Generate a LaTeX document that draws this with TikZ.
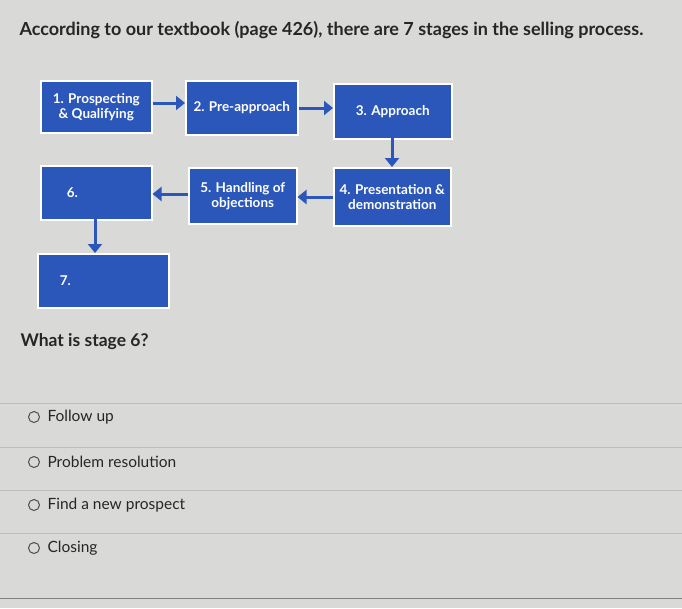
\documentclass[tikz,border=0pt]{standalone}
\usepackage{fontspec}
\setmainfont{Lato}
\usetikzlibrary{arrows.meta}
\definecolor{bg}{HTML}{D9D9D7}
\definecolor{bx}{HTML}{2B57BA}
\definecolor{ln}{HTML}{BDBDBB}
\tikzset{
  stage/.style={draw=white, line width=1.5pt, fill=bx, text=white, font=\fontsize{13.5}{15}\selectfont\bfseries, align=center, anchor=north west, inner sep=2pt},
  flow/.style={draw=bx, line width=3pt, -{Triangle[length=9pt,width=14pt]}},
  opt/.style={anchor=west, font=\fontsize{15.5}{18}\selectfont, text=black!85},
  rad/.style={draw=black!70, line width=1pt, circle, minimum size=11pt, inner sep=0pt},
  sep/.style={draw=ln, line width=0.6pt}
}
\begin{document}
\begin{tikzpicture}[x=1pt,y=-1pt]
\fill[bg] (0,0) rectangle (682,608);
\useasboundingbox (0,0) rectangle (682,608);
\node[anchor=west, font=\fontsize{18}{21}\selectfont\bfseries, text=black!85] (title) at (16,30) {According to our textbook (page 426), there are 7 stages in the selling process.};
\node[stage, minimum width=111pt, minimum height=52pt] (s1) at (40,80) {1. Prospecting\\\& Qualifying};
\node[stage, minimum width=112pt, minimum height=54pt] (s2) at (185,80) {2. Pre-approach};
\node[stage, minimum width=118pt, minimum height=55pt] (s3) at (333,83) {3. Approach};
\node[stage, minimum width=117pt, minimum height=58pt] (s4) at (333,167) {4. Presentation \&\\demonstration};
\node[stage, minimum width=108pt, minimum height=56pt] (s5) at (188,167) {5. Handling of\\objections};
\node[stage, minimum width=111pt, minimum height=54pt, align=left, text width=95pt] (s6) at (40,165) {\hspace*{18pt}6.};
\node[stage, minimum width=131pt, minimum height=54pt, align=left, text width=115pt] (s7) at (37,253) {\hspace*{14pt}7.};
\draw[flow] (s1.east |- 0,103) -- (s2.west |- 0,103);
\draw[flow] (s2.east |- 0,108) -- (s3.west |- 0,108);
\draw[flow] (392,138) -- (s4.north -| 392,0);
\draw[flow] (s4.west |- 0,197) -- (s5.east |- 0,197);
\draw[flow] (s5.west |- 0,194) -- (s6.east |- 0,194);
\draw[flow] (95,219) -- (s7.north -| 95,0);
\node[anchor=west, font=\fontsize{17.5}{21}\selectfont\bfseries, text=black!85] (q) at (17,342) {What is stage 6?};
\draw[sep] (0,403) -- (682,403);
\draw[sep] (0,447) -- (682,447);
\draw[sep] (0,490) -- (682,490);
\draw[sep] (0,533) -- (682,533);
\draw[draw=black!50, line width=0.8pt] (0,598) -- (682,598);
\node[rad] (r1) at (34,417) {};
\node[opt] (o1) at (44,417) {Follow up};
\node[rad] (r2) at (34,462) {};
\node[opt] (o2) at (44,462) {Problem resolution};
\node[rad] (r3) at (34,505) {};
\node[opt] (o3) at (44,505) {Find a new prospect};
\node[rad] (r4) at (34,548) {};
\node[opt] (o4) at (44,548) {Closing};
\end{tikzpicture}
\end{document}
